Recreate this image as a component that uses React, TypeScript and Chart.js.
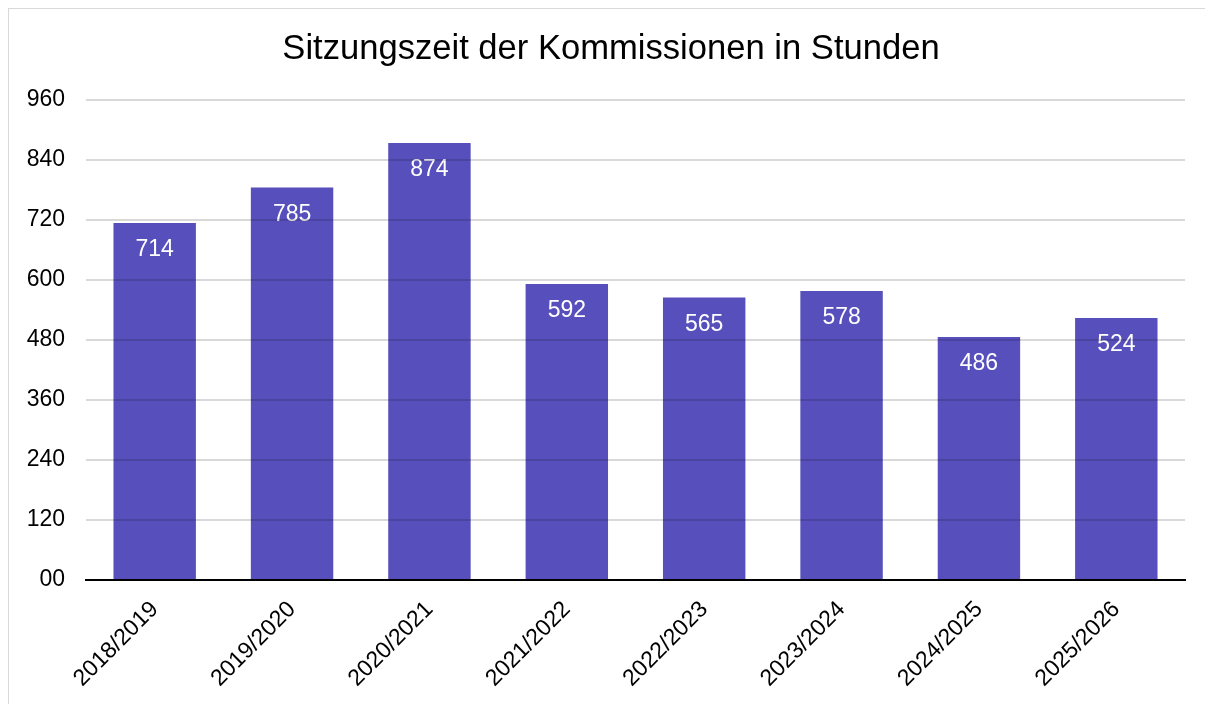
import React, { useEffect, useRef } from "react";
import { Chart, registerables } from "chart.js";

Chart.register(...registerables);

const categories = ["2018/2019", "2019/2020", "2020/2021", "2021/2022", "2022/2023", "2023/2024", "2024/2025", "2025/2026"];
const hours = [714, 785, 874, 592, 565, 578, 486, 524];
const chartTitle = "Sitzungszeit der Kommissionen in Stunden";

const FONT = "'Liberation Sans', Arial, sans-serif";

const barLabels = {
  id: "barLabels",
  afterDatasetsDraw(chart: any) {
    const ctx = chart.ctx;
    const meta = chart.getDatasetMeta(0);
    ctx.save();
    ctx.fillStyle = "#ffffff";
    ctx.font = `23px ${FONT}`;
    ctx.textAlign = "center";
    ctx.textBaseline = "middle";
    meta.data.forEach((bar: any, i: number) => {
      ctx.fillText(String(chart.data.datasets[0].data[i]), bar.x, bar.y + 27);
    });
    ctx.restore();
  },
};

const centeredTitle = {
  id: "centeredTitle",
  afterDraw(chart: any) {
    const ctx = chart.ctx;
    ctx.save();
    ctx.fillStyle = "#000000";
    ctx.font = `34.6px ${FONT}`;
    ctx.textAlign = "center";
    ctx.textBaseline = "middle";
    ctx.fillText(chartTitle, chart.width / 2, 40);
    ctx.restore();
  },
};

export default function App() {
  const ref = useRef<HTMLCanvasElement>(null);
  useEffect(() => {
    if (!ref.current) return;
    const chart = new Chart(ref.current, {
      type: "bar",
      data: {
        labels: categories,
        datasets: [
          {
            data: hours,
            backgroundColor: "rgb(87,79,188)",
            barPercentage: 0.6,
            categoryPercentage: 1,
          },
        ],
      },
      options: {
        animation: false,
        responsive: false,
        layout: { padding: { left: 0, right: 28, top: 91, bottom: 0 } },
        plugins: {
          legend: { display: false },
          tooltip: { enabled: false },
          title: { display: false },
        },
        scales: {
          x: {
            grid: { display: false },
            border: { display: true, color: "#000", width: 2 },
            ticks: {
              color: "#000",
              font: { family: FONT, size: 23 },
              minRotation: 45,
              maxRotation: 45,
              padding: 8,
            },
            afterFit(axis: any) {
              axis.height = 124;
            },
          },
          y: {
            min: 0,
            max: 960,
            border: { display: false },
            grid: { color: "rgba(0,0,0,0.15)", lineWidth: 2, drawTicks: false, z: 1 },
            ticks: {
              stepSize: 120,
              color: "#000",
              font: { family: FONT, size: 23 },
              padding: 21,
              callback: (v: any) => (v === 0 ? "00" : String(v)),
            },
            afterFit(axis: any) {
              axis.width = 77;
            },
          },
        },
      },
      plugins: [barLabels, centeredTitle],
    });
    return () => chart.destroy();
  }, []);
  return (
    <div
      style={{
        borderTop: "1px solid #d9d9d9",
        borderLeft: "1px solid #d9d9d9",
        width: 1205,
        height: 695,
        background: "#fff",
      }}
    >
      <canvas ref={ref} width={1204} height={695} style={{ display: "block" }} />
    </div>
  );
}
